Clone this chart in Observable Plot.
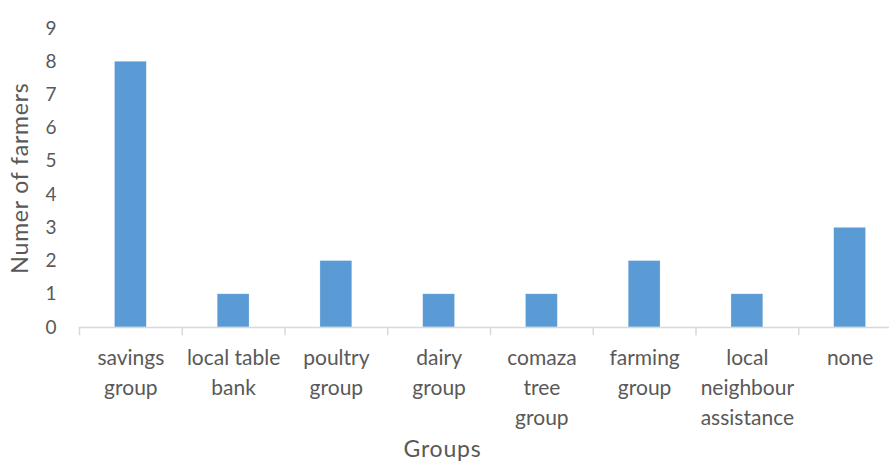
<!DOCTYPE html>
<html>
<head>
<meta charset="utf-8">
<script src="https://cdn.jsdelivr.net/npm/d3@7"></script>
<script src="https://cdn.jsdelivr.net/npm/@observablehq/plot@0.6"></script>
<style>
  html, body { margin: 0; padding: 0; background: #fff; overflow: hidden; }
  #chart svg { display: block; max-width: none !important; }
  #chart .title text { letter-spacing: 0.8px; }
</style>
</head>
<body>
<div id="chart"></div>
<script>
// Farmer group membership counts
const groups = [
  "savings group",
  "local table bank",
  "poultry group",
  "dairy group",
  "comaza tree group",
  "farming group",
  "local neighbour assistance",
  "none"
];
const groupLabels = [
  "savings\ngroup",
  "local table\nbank",
  "poultry\ngroup",
  "dairy\ngroup",
  "comaza\ntree\ngroup",
  "farming\ngroup",
  "local\nneighbour\nassistance",
  "none"
];
const farmers = [8, 1, 2, 1, 1, 2, 1, 3];
const yTicks = [0, 1, 2, 3, 4, 5, 6, 7, 8, 9];

const data = groups.map((g, i) => ({group: g, label: groupLabels[i], count: farmers[i]}));

const width = 889, height = 462;
const marginLeft = 79, marginRight = -12, marginTop = 28, marginBottom = 135;
const step = (width - marginLeft - marginRight) / groups.length;
const font = "Lato, 'Open Sans', sans-serif";
const textColor = "#595959";
const axisColor = "#d9d9d9";

const chart = Plot.plot({
  width, height, marginLeft, marginRight, marginTop, marginBottom,
  style: {fontFamily: font, color: textColor, background: "#fff", overflow: "hidden"},
  x: {domain: groups, paddingInner: 0.69, paddingOuter: 0.345, round: false, axis: null},
  y: {domain: [0, 9], axis: null},
  marks: [
    Plot.barY(data, {x: "group", y: "count", fill: "#5b9bd5", stroke: "#ffffff", strokeOpacity: 0.5, strokeWidth: 0.5}),
    // horizontal axis line
    Plot.ruleY([0], {stroke: axisColor, strokeWidth: 1.5}),
    // tick marks at the category boundaries
    Plot.ruleX(groups, {x: d => d, y1: 0, y2: -0.25, dx: -step / 2, stroke: axisColor, strokeWidth: 1.5}),
    Plot.ruleX([groups[groups.length - 1]], {x: d => d, y1: 0, y2: -0.25, dx: step / 2, stroke: axisColor, strokeWidth: 1.5}),
    // category labels
    Plot.text(data, {x: "group", y: 0, text: "label", dy: 16, lineAnchor: "top", lineHeight: 1.43, fontSize: 21, fill: textColor}),
    // y tick labels
    Plot.text(yTicks, {y: d => d, text: d => String(d), frameAnchor: "left", dx: 56 - marginLeft, textAnchor: "end", fontSize: 19, fill: textColor}),
    // y axis title
    Plot.text(["Numer of farmers"], {frameAnchor: "left", textAnchor: "middle", dx: -59, rotate: -90, fontSize: 23, fill: textColor, className: "title"}),
    // x axis title
    Plot.text(["Groups"], {frameAnchor: "bottom", dx: 442 - (marginLeft + (width - marginRight)) / 2, dy: 129, fontSize: 23, fill: textColor, className: "title"})
  ]
});
document.getElementById("chart").append(chart);
</script>
</body>
</html>
